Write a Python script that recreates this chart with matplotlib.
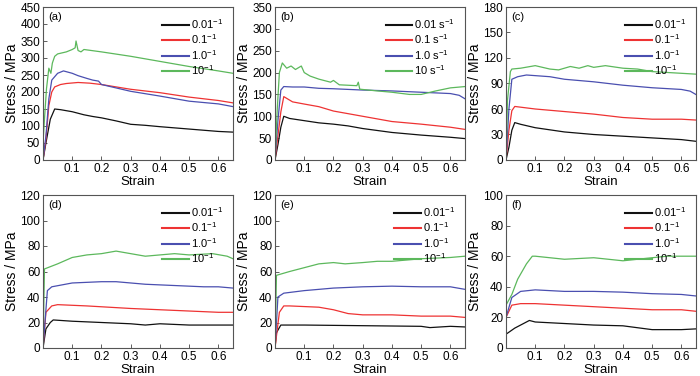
import matplotlib.pyplot as plt

plt.rcParams['font.family'] = ['Liberation Sans', 'DejaVu Sans']
plt.rcParams['mathtext.fontset'] = 'custom'
plt.rcParams['mathtext.rm'] = 'Liberation Sans'
plt.rcParams['mathtext.it'] = 'Liberation Sans:italic'
plt.rcParams['mathtext.bf'] = 'Liberation Sans:bold'
plt.rcParams['mathtext.default'] = 'regular'

c_black, c_red, c_blue, c_green = '#111111', '#ee3333', '#4a4fb0', '#5cb85c'

# (a)
a_x0 = [0, 0.01, 0.025, 0.04, 0.06, 0.1, 0.14, 0.17, 0.2, 0.25, 0.3, 0.35, 0.4, 0.5, 0.6, 0.65]
a_y0 = [0, 50, 120, 150, 148, 142, 133, 128, 124, 115, 105, 102, 98, 91, 84, 82]
a_x1 = [0, 0.01, 0.02, 0.03, 0.04, 0.06, 0.08, 0.12, 0.16, 0.2, 0.3, 0.4, 0.5, 0.55, 0.6, 0.65]
a_y1 = [0, 60, 160, 200, 215, 222, 225, 228, 226, 222, 208, 198, 185, 180, 175, 168]
a_x2 = [0, 0.01, 0.02, 0.03, 0.05, 0.07, 0.1, 0.12, 0.15, 0.17, 0.19, 0.2, 0.3, 0.4, 0.5, 0.6, 0.65]
a_y2 = [0, 70, 180, 235, 255, 262, 255, 248, 240, 235, 232, 222, 202, 188, 173, 165, 157]
a_x3 = [0, 0.005, 0.012, 0.02, 0.027, 0.032, 0.04, 0.05, 0.08, 0.1, 0.11, 0.113, 0.12, 0.13, 0.14, 0.2, 0.3, 0.4, 0.5, 0.6, 0.65]
a_y3 = [50, 120, 210, 270, 255, 285, 305, 312, 318, 325, 330, 350, 322, 318, 325, 318, 305, 290, 275, 262, 255]

# (b)
b_x0 = [0, 0.01, 0.02, 0.03, 0.05, 0.1, 0.15, 0.2, 0.25, 0.3, 0.4, 0.5, 0.6, 0.65]
b_y0 = [0, 35, 75, 100, 95, 90, 85, 82, 78, 72, 63, 57, 52, 49]
b_x1 = [0, 0.01, 0.02, 0.03, 0.06, 0.1, 0.15, 0.2, 0.3, 0.4, 0.5, 0.6, 0.65]
b_y1 = [0, 55, 110, 145, 133, 128, 122, 112, 100, 88, 82, 75, 70]
b_x2 = [0, 0.01, 0.02, 0.03, 0.06, 0.1, 0.15, 0.2, 0.3, 0.4, 0.5, 0.6, 0.63, 0.65]
b_y2 = [0, 90, 160, 168, 167, 167, 164, 163, 160, 158, 155, 152, 148, 140]
b_x3 = [0, 0.008, 0.015, 0.025, 0.04, 0.055, 0.07, 0.09, 0.1, 0.12, 0.15, 0.19, 0.2, 0.22, 0.28, 0.285, 0.29, 0.35, 0.4, 0.46, 0.5, 0.55, 0.6, 0.65]
b_y3 = [0, 120, 200, 222, 210, 215, 207, 215, 200, 192, 185, 178, 182, 172, 170, 178, 162, 158, 155, 150, 150, 158, 165, 168]

# (c)
c_x0 = [0, 0.01, 0.02, 0.03, 0.05, 0.1, 0.2, 0.3, 0.4, 0.5, 0.6, 0.65]
c_y0 = [0, 15, 35, 44, 42, 38, 33, 30, 28, 26, 24, 22]
c_x1 = [0, 0.01, 0.02, 0.03, 0.1, 0.2, 0.3, 0.4, 0.5, 0.6, 0.65]
c_y1 = [0, 35, 58, 63, 60, 57, 54, 50, 48, 48, 47]
c_x2 = [0, 0.01, 0.02, 0.04, 0.07, 0.15, 0.2, 0.3, 0.4, 0.5, 0.6, 0.63, 0.65]
c_y2 = [0, 60, 95, 98, 100, 98, 95, 92, 88, 85, 83, 81, 77]
c_x3 = [0, 0.005, 0.015, 0.02, 0.05, 0.1, 0.15, 0.18, 0.22, 0.25, 0.28, 0.3, 0.34, 0.4, 0.45, 0.5, 0.6, 0.65]
c_y3 = [0, 70, 104, 107, 108, 111, 107, 106, 110, 108, 111, 109, 111, 108, 107, 104, 102, 101]

# (d)
d_x0 = [0, 0.01, 0.025, 0.035, 0.1, 0.2, 0.3, 0.35, 0.4, 0.5, 0.6, 0.65]
d_y0 = [0, 15, 20, 22, 21, 20, 19, 18, 19, 18, 18, 18]
d_x1 = [0, 0.01, 0.03, 0.05, 0.15, 0.3, 0.4, 0.5, 0.6, 0.65]
d_y1 = [0, 28, 33, 34, 33, 31, 30, 29, 28, 28]
d_x2 = [0, 0.015, 0.03, 0.1, 0.2, 0.25, 0.35, 0.45, 0.55, 0.6, 0.65]
d_y2 = [0, 45, 48, 51, 52, 52, 50, 49, 48, 48, 47]
d_x3 = [0, 0.005, 0.05, 0.1, 0.15, 0.2, 0.25, 0.3, 0.35, 0.4, 0.45, 0.5, 0.58, 0.63, 0.65]
d_y3 = [0, 62, 66, 71, 73, 74, 76, 74, 72, 73, 74, 73, 74, 72, 70]

# (e)
e_x0 = [0, 0.005, 0.02, 0.1, 0.3, 0.5, 0.53, 0.6, 0.65]
e_y0 = [0, 12, 18, 18, 17.5, 17, 16, 17, 16.5]
e_x1 = [0, 0.015, 0.03, 0.05, 0.15, 0.2, 0.25, 0.3, 0.4, 0.5, 0.6, 0.65]
e_y1 = [0, 28, 33, 33, 32, 30, 27, 26, 26, 25, 25, 24]
e_x2 = [0, 0.01, 0.03, 0.1, 0.2, 0.3, 0.4, 0.5, 0.6, 0.65]
e_y2 = [0, 40, 43, 45, 47, 48, 48.5, 48, 48, 46]
e_x3 = [0, 0.005, 0.05, 0.1, 0.15, 0.2, 0.24, 0.3, 0.35, 0.4, 0.5, 0.6, 0.65]
e_y3 = [0, 57, 60, 63, 66, 67, 66, 67, 68, 68, 70, 71, 72]

# (f)
f_x0 = [0, 0.03, 0.08, 0.1, 0.2, 0.3, 0.4, 0.5, 0.6, 0.65]
f_y0 = [9, 13, 18, 17, 16, 15, 14.5, 12, 12, 12.5]
f_x1 = [0, 0.02, 0.05, 0.1, 0.2, 0.3, 0.4, 0.5, 0.6, 0.65]
f_y1 = [20, 28, 29, 29, 28, 27, 26, 25, 25, 24]
f_x2 = [0, 0.02, 0.05, 0.1, 0.2, 0.3, 0.4, 0.5, 0.6, 0.65]
f_y2 = [20, 33, 37, 38, 37, 37, 36.5, 35.5, 35, 34]
f_x3 = [0, 0.02, 0.04, 0.07, 0.09, 0.1, 0.2, 0.3, 0.4, 0.45, 0.55, 0.6, 0.65]
f_y3 = [28, 35, 45, 55, 60, 60, 58, 59, 57, 58, 60, 60, 60]

rate_labels = ['0.01$^{-1}$', '0.1$^{-1}$', '1.0$^{-1}$', '10$^{-1}$']
rate_labels_b = ['0.01 s$^{-1}$', '0.1 s$^{-1}$', '1.0 s$^{-1}$', '10 s$^{-1}$']

panels = [
    ('(a)', [(a_x0, a_y0), (a_x1, a_y1), (a_x2, a_y2), (a_x3, a_y3)], 450, 50, rate_labels),
    ('(b)', [(b_x0, b_y0), (b_x1, b_y1), (b_x2, b_y2), (b_x3, b_y3)], 350, 50, rate_labels_b),
    ('(c)', [(c_x0, c_y0), (c_x1, c_y1), (c_x2, c_y2), (c_x3, c_y3)], 180, 30, rate_labels),
    ('(d)', [(d_x0, d_y0), (d_x1, d_y1), (d_x2, d_y2), (d_x3, d_y3)], 120, 20, rate_labels),
    ('(e)', [(e_x0, e_y0), (e_x1, e_y1), (e_x2, e_y2), (e_x3, e_y3)], 120, 20, rate_labels),
    ('(f)', [(f_x0, f_y0), (f_x1, f_y1), (f_x2, f_y2), (f_x3, f_y3)], 100, 20, rate_labels),
]
colors = [c_black, c_red, c_blue, c_green]

fig = plt.figure(figsize=(7, 3.76), dpi=100)
lefts = [43, 275, 506]
bottoms = [376 - 160, 376 - 348]
w, h = 190, 153

for i, (tag, curves, ymax, ystep, labels) in enumerate(panels):
    l = lefts[i % 3]
    b = bottoms[i // 3]
    ax = fig.add_axes([l / 700, b / 376, w / 700, h / 376])
    for (x, y), col, lab in zip(curves, colors, labels):
        ax.plot(x, y, color=col, lw=0.9, label=lab)
    ax.set_xlim(0, 0.65)
    ax.set_ylim(0, ymax)
    ax.set_xticks([0.1, 0.2, 0.3, 0.4, 0.5, 0.6])
    ax.set_yticks(range(0, ymax + 1, ystep))
    ax.tick_params(direction='in', length=3, width=0.6, labelsize=8.5, pad=2, color='#444444')
    for s in ax.spines.values():
        s.set_color('#555555')
        s.set_linewidth(0.8)
    ax.set_xlabel('Strain', fontsize=9.5, labelpad=1)
    ax.set_ylabel('Stress / MPa', fontsize=10, labelpad=1)
    ax.text(0.03, 0.97, tag, transform=ax.transAxes, ha='left', va='top', fontsize=8)
    leg = ax.legend(loc='upper right', frameon=False, fontsize=8, handlelength=2.4,
                    handletextpad=0.15, labelspacing=0.15, borderaxespad=0.5)
    for line in leg.get_lines():
        line.set_linewidth(1.5)

fig.savefig('out.png', dpi=100)
